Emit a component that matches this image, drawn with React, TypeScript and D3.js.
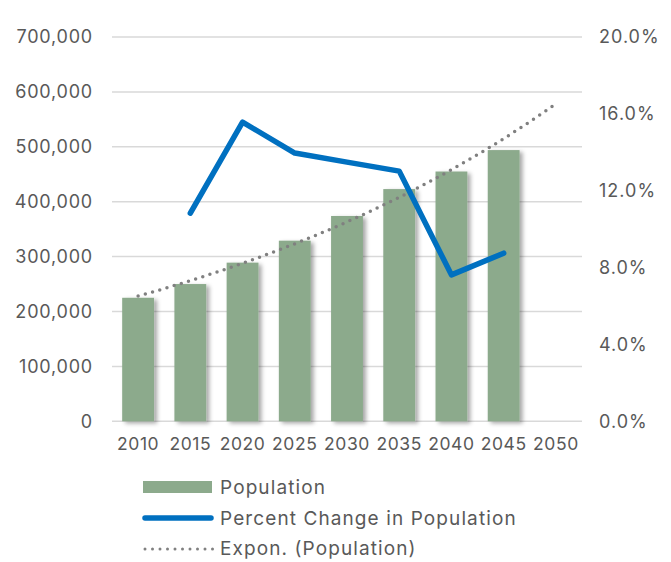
import { line, scaleBand, scaleLinear, format, curveLinear } from 'd3'

const years = ['2010', '2015', '2020', '2025', '2030', '2035', '2040', '2045', '2050']
const population: (number | null)[] = [225000, 250000, 289000, 329000, 374000, 423000, 455000, 494000, null]
const percentChange: (number | null)[] = [null, 0.1083, 0.1557, 0.1396, 0.1349, 0.1302, 0.0762, 0.0875, null]
const leftTicks = [0, 100000, 200000, 300000, 400000, 500000, 600000, 700000]
const rightTicks = [0, 0.04, 0.08, 0.12, 0.16, 0.2]

const width = 671
const height = 562
const plot = { left: 112, right: 582, top: 37, bottom: 421.3 }
const textColor = '#595959'
const fontFamily = 'Inter, "Liberation Sans", sans-serif'

// exponential fit of the population, as the spreadsheet trendline does
function exponentialFit(values: (number | null)[]) {
  const pts = values
    .map((v, i) => ({ x: i + 1, v }))
    .filter((p): p is { x: number; v: number } => p.v !== null)
  const n = pts.length
  const mx = pts.reduce((s, p) => s + p.x, 0) / n
  const my = pts.reduce((s, p) => s + Math.log(p.v), 0) / n
  const sxy = pts.reduce((s, p) => s + (p.x - mx) * (Math.log(p.v) - my), 0)
  const sxx = pts.reduce((s, p) => s + (p.x - mx) ** 2, 0)
  const b = sxy / sxx
  const a = my - b * mx
  return (x: number) => Math.exp(a + b * x)
}

export default function App() {
  const x = scaleBand<string>()
    .domain(years)
    .range([plot.left, plot.right])
    .paddingInner(0.39)
    .paddingOuter(0.195)
  const center = (year: string) => (x(year) ?? 0) + x.bandwidth() / 2

  const yLeft = scaleLinear().domain([0, 700000]).range([plot.bottom, plot.top])
  const yRight = scaleLinear().domain([0, 0.2]).range([plot.bottom, plot.top])

  const fit = exponentialFit(population)
  const trendPoints = years.flatMap((year, i) =>
    i < years.length - 1
      ? Array.from({ length: 10 }, (_, k) => ({ pos: center(year) + (k / 10) * x.step(), xi: i + 1 + k / 10 }))
      : [{ pos: center(year), xi: i + 1 }],
  )
  const trendPath = line<{ pos: number; xi: number }>()
    .x((d) => d.pos)
    .y((d) => yLeft(fit(d.xi)))(trendPoints)

  const pctPath = line<{ year: string; v: number | null }>()
    .defined((d) => d.v !== null)
    .x((d) => center(d.year))
    .y((d) => yRight(d.v ?? 0))
    .curve(curveLinear)(years.map((year, i) => ({ year, v: percentChange[i] })))

  const fmtLeft = format(',')
  const fmtRight = format('.1%')

  return (
    <svg
      width={width}
      height={height}
      style={{ position: 'absolute', left: 0, top: 0, background: '#fff' }}
      fontFamily={fontFamily}
    >
      <defs>
        <filter id="barShadow" x="-20%" y="-5%" width="150%" height="115%">
          <feDropShadow dx="3" dy="2" stdDeviation="2" floodColor="#000" floodOpacity="0.35" />
        </filter>
      </defs>

      {leftTicks.map((t) => (
        <line key={`grid-${t}`} x1={plot.left} x2={plot.right} y1={yLeft(t)} y2={yLeft(t)} stroke="#d9d9d9" strokeWidth={1.5} />
      ))}

      {leftTicks.map((t) => (
        <text key={`yl-${t}`} x={93} y={yLeft(t)} dy="0.35em" textAnchor="end" fontSize={18} letterSpacing={0.8} fill={textColor}>
          {fmtLeft(t)}
        </text>
      ))}

      {rightTicks.map((t) => (
        <text key={`yr-${t}`} x={599} y={yRight(t)} dy="0.35em" textAnchor="start" fontSize={18} letterSpacing={1} fill={textColor}>
          {fmtRight(t)}
        </text>
      ))}

      {years.map((year) => (
        <text key={`x-${year}`} x={center(year)} y={444} dy="0.35em" textAnchor="middle" fontSize={17.5} letterSpacing={0.6} fill={textColor}>
          {year}
        </text>
      ))}

      {years.map((year, i) =>
        population[i] === null ? null : (
          <rect
            key={`bar-${year}`}
            x={x(year)}
            y={yLeft(population[i] as number)}
            width={x.bandwidth()}
            height={plot.bottom - yLeft(population[i] as number)}
            fill="#8caa8c"
            filter="url(#barShadow)"
          />
        ),
      )}

      <path d={trendPath ?? ''} fill="none" stroke="#808080" strokeWidth={3.5} strokeDasharray="0 7.5" strokeLinecap="round" />

      <path d={pctPath ?? ''} fill="none" stroke="#0070c0" strokeWidth={5.5} strokeLinecap="round" strokeLinejoin="round" />

      {/* legend */}
      <rect x={143} y={481} width={69} height={12} fill="#8caa8c" />
      <text x={220} y={487} dy="0.35em" fontSize={19} letterSpacing={1.1} fill={textColor}>Population</text>
      <line x1={145} x2={211} y1={518} y2={518} stroke="#0070c0" strokeWidth={5.5} strokeLinecap="round" />
      <text x={220} y={518} dy="0.35em" fontSize={19} letterSpacing={1.1} fill={textColor}>Percent Change in Population</text>
      <line x1={145} x2={213} y1={549} y2={549} stroke="#808080" strokeWidth={3} strokeDasharray="0 7.5" strokeLinecap="round" />
      <text x={220} y={548} dy="0.35em" fontSize={19} letterSpacing={1.1} fill={textColor}>Expon. (Population)</text>
    </svg>
  )
}
